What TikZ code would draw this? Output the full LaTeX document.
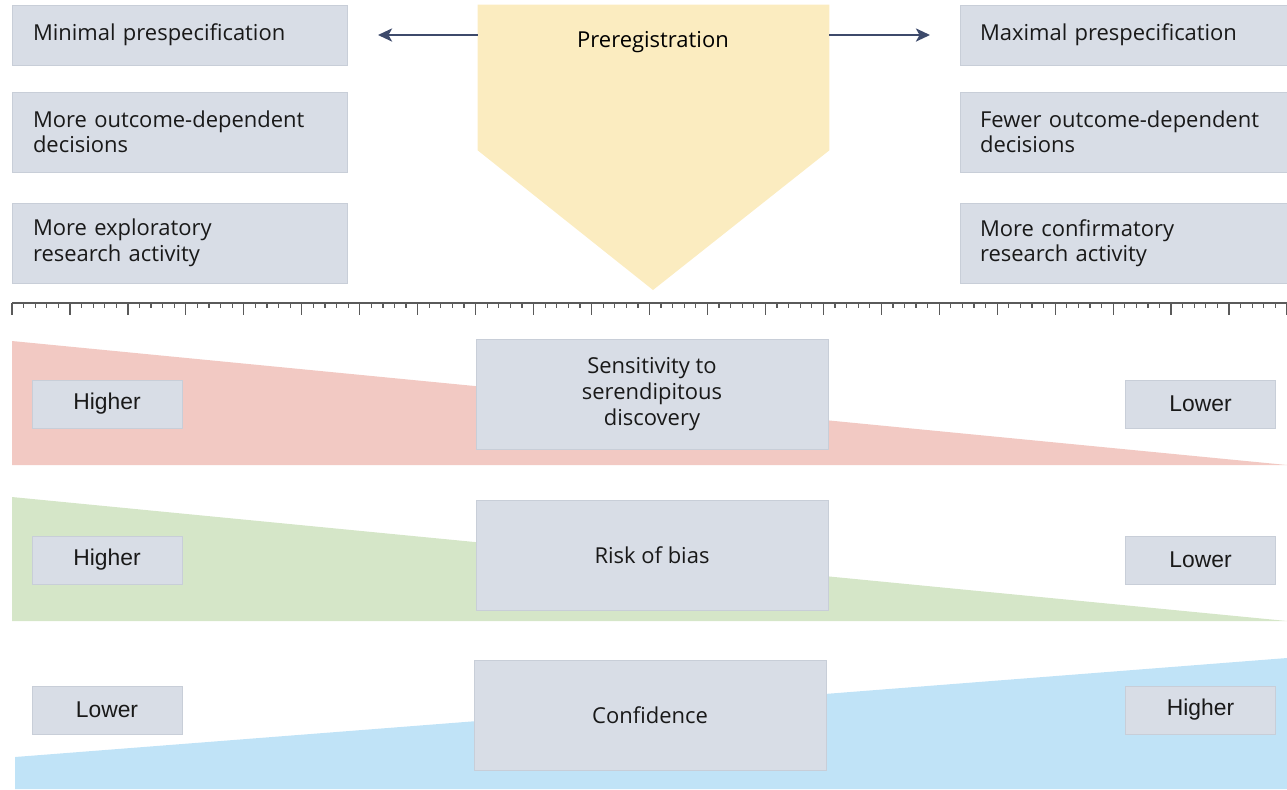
\documentclass[tikz,border=0pt]{standalone}
\usepackage{fontspec}
\setmainfont{Open Sans}
\newfontfamily\tagfont{Liberation Sans}
\usetikzlibrary{positioning,arrows.meta}
\definecolor{boxfill}{RGB}{216,221,230}
\definecolor{boxline}{RGB}{200,206,216}
\definecolor{preregfill}{RGB}{251,236,192}
\definecolor{arrowcol}{RGB}{61,74,107}
\definecolor{rulercol}{RGB}{90,90,90}
\definecolor{redband}{RGB}{242,201,195}
\definecolor{greenband}{RGB}{213,230,200}
\definecolor{blueband}{RGB}{192,227,247}
\tikzset{%
  every panel/.style={
    rectangle,
    draw=boxline,
    fill=boxfill,
    line width=0.4pt,
    text=black!90,
    font=\fontsize{12.5}{14.5}\selectfont
  },
  panel left/.style={
    align=left,
    text width=5.86cm,
    inner xsep=0.42cm,
    minimum width=6.7cm
  },
  panel right/.style={
    align=left,
    text width=5.74cm,
    inner xsep=0.4cm,
    minimum width=6.54cm
  },
  panel mid/.style={
    align=center,
    minimum width=7.04cm,
    minimum height=2.2cm,
    font=\fontsize{12.5}{15}\selectfont
  },
  level tag/.style={
    minimum width=3cm,
    minimum height=0.96cm,
    font=\tagfont\fontsize{13}{15}\selectfont
  },
}

\begin{document}
\begin{tikzpicture}[x=0.02cm, y=-0.02cm, >={Stealth[length=0.28cm,width=0.26cm,inset=0.07cm]}]

    \useasboundingbox (0,0) rectangle (1287,789);

    % coloured bands
    \fill [redband] (12,341) -- (1287,465) -- (12,465) -- cycle;
    \fill [greenband] (12,497) -- (1287,621) -- (12,621) -- cycle;
    \fill [blueband] (15,757) -- (1287,658) -- (1287,789) -- (15,789) -- cycle;

    % preregistration shape
    \node [minimum width=7.02cm, minimum height=2.9cm, inner sep=0pt] (prereg) at (653.5,77.5) {};
    \coordinate (tip) at (653,290);
    \fill [preregfill] (prereg.north west) -- (prereg.north east) -- (prereg.south east)
      -- (tip) -- (prereg.south west) -- cycle;
    \node [font=\fontsize{12.5}{14.5}\selectfont] (prereg-text) at (653,42) {Preregistration};

    \coordinate (end-left) at (378,35);
    \coordinate (end-right) at (930,35);
    \draw [->, arrowcol, line width=1.6pt] (prereg.west |- end-left) -- (end-left);
    \draw [->, arrowcol, line width=1.6pt] (prereg.east |- end-right) -- (end-right);

    % left and right columns
    \foreach \l/\yc/\h [count=\i] in {{Minimal prespecification}/35/60,
        {More outcome-dependent\\decisions}/132/80,
        {More exploratory\\research activity}/243/80}
      \node [every panel, panel left, minimum height=\h*0.02cm] (left-\i) at (179.5,\yc) {\l};

    \foreach \l/\yc/\h [count=\i] in {{Maximal prespecification}/35/60,
        {Fewer outcome-dependent\\decisions}/132/80,
        {More confirmatory\\research activity}/243/80}
      \node [every panel, panel right, minimum height=\h*0.02cm] (right-\i) at (1123.5,\yc) {\l};

    % ruler
    \draw [rulercol, line width=0.8pt] (12,303) -- (1287,303);
    \foreach \t in {0,...,110} {
      \pgfmathsetmacro{\tl}{mod(\t,5)==0 ? 12 : 5}
      \draw [rulercol, line width=0.7pt] (12+\t*11.5909,303) -- ++(0,\tl);
    }

    % middle boxes
    \foreach \l/\xc/\yc [count=\i] in {{Sensitivity to\\serendipitous\\discovery}/652/394,
        {Risk of bias}/652/555, {Confidence}/650/715}
      \node [every panel, panel mid] (mid-\i) at (\xc,\yc) {\l};

    % higher / lower tags
    \foreach \a/\b/\yc [count=\i] in {Higher/Lower/404, Higher/Lower/560, Lower/Higher/710} {
      \node [every panel, level tag] (tag-left-\i) at (107,\yc) {\a};
      \node [every panel, level tag] (tag-right-\i) at (1200.5,\yc) {\b};
    }

\end{tikzpicture}
\end{document}
